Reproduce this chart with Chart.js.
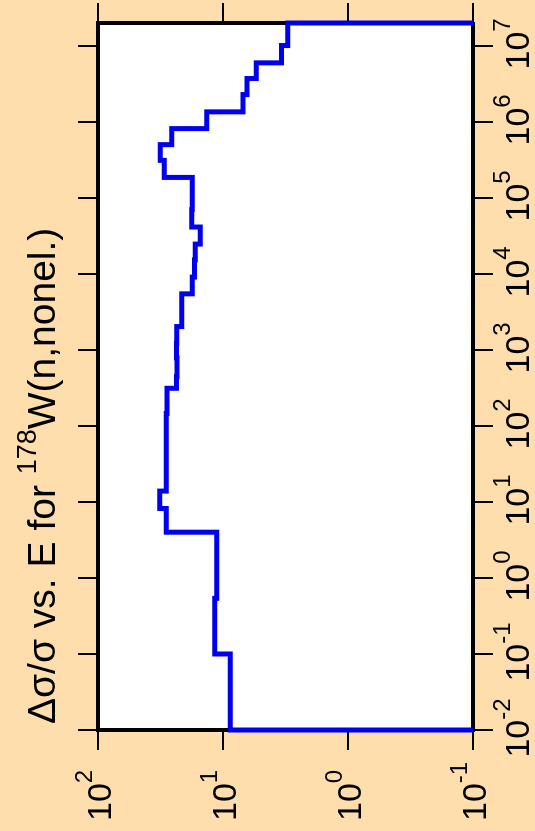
<!DOCTYPE html>
<html>
<head>
<meta charset="utf-8">
<script src="https://cdn.jsdelivr.net/npm/chart.js@4.4.1/dist/chart.umd.min.js"></script>
<style>
  html, body { margin: 0; padding: 0; background: #ffdead; overflow: hidden; }
  /* the chart is drawn landscape and turned a quarter left to fit the page */
  #wrap { position: absolute; left: 0; top: 0; width: 831px; height: 535px;
          transform-origin: 0 0; transform: translateY(831px) rotate(-90deg); }
</style>
</head>
<body>
<div id="wrap"><canvas id="c" width="831" height="535"></canvas></div>
<script>
// energy group boundaries (eV) and relative uncertainty (%) in each group
const energyBounds = [0.01, 0.1, 0.54, 4.0, 8.2, 13.9, 146, 313, 445, 785, 1230, 2030,
    5470, 9080, 15300, 24700, 41400, 70000, 186000, 312000, 502000, 816000,
    1355000, 2290000, 3720000, 5980000, 10100000, 20000000];
const relUncertainty = [8.76, 11.66, 11.2, 28.4, 32.0, 28.4, 28.0, 23.5, 23.3, 23.6, 23.4,
    21.4, 17.6, 16.9, 16.7, 15.2, 17.8, 17.6, 29.5, 31.7, 25.7, 13.5,
    6.92, 6.42, 5.42, 3.40, 3.04];
const energyTicks = [1e-2, 1e-1, 1e0, 1e1, 1e2, 1e3, 1e4, 1e5, 1e6, 1e7];
const uncTicks = [1e-1, 1e0, 1e1, 1e2];
const baseline = 0.1;

const FONT = '"Liberation Sans", Arial, sans-serif';

// closed step outline, starting and ending on the baseline
const points = [{ x: energyBounds[0], y: baseline }];
relUncertainty.forEach((v, i) => points.push({ x: energyBounds[i + 1], y: v }));
points.push({ x: energyBounds[energyBounds.length - 1], y: baseline });

function setTicks(values) {
    return scale => { scale.ticks = values.map(v => ({ value: v })); };
}

const gridOpts = { drawOnChartArea: false, drawTicks: true, tickLength: 20, color: '#000', lineWidth: 2 };
const borderOpts = { color: '#000', width: 4 };

// "10" with a raised exponent
function powLabel(ctx, x, y, exp, align) {
    const sup = String(exp);
    ctx.font = '34px ' + FONT;
    const wb = ctx.measureText('10').width;
    ctx.font = '24px ' + FONT;
    const ws = ctx.measureText(sup).width;
    const left = align === 'center' ? x - (wb + ws) / 2 : x;
    ctx.font = '34px ' + FONT;
    ctx.fillText('10', left, y);
    ctx.font = '24px ' + FONT;
    ctx.fillText(sup, left + wb, y - 19);
}

const plotBg = {
    id: 'plotBg',
    beforeDraw(chart) {
        const a = chart.chartArea;
        chart.ctx.save();
        chart.ctx.fillStyle = '#fff';
        chart.ctx.fillRect(a.left, a.top, a.right - a.left, a.bottom - a.top);
        chart.ctx.restore();
    }
};

const labelsPlugin = {
    id: 'labels',
    afterDraw(chart) {
        const ctx = chart.ctx;
        const sx = chart.scales.x, sy = chart.scales.y;
        ctx.save();
        ctx.fillStyle = '#000';
        ctx.textAlign = 'left';
        ctx.textBaseline = 'alphabetic';
        energyTicks.forEach(v => {
            powLabel(ctx, sx.getPixelForValue(v) + 2, 529, Math.round(Math.log10(v)), 'center');
        });
        uncTicks.forEach(v => {
            powLabel(ctx, 10, sy.getPixelForValue(v) + 13, Math.round(Math.log10(v)), 'left');
        });

        // title
        let tx = 107;
        ctx.font = '39px ' + FONT;
        ctx.fillText('\u0394\u03c3/\u03c3 vs. E for ', tx, 55);
        tx += ctx.measureText('\u0394\u03c3/\u03c3 vs. E for ').width;
        ctx.font = '27px ' + FONT;
        ctx.fillText('178', tx, 36);
        tx += ctx.measureText('178').width;
        ctx.font = '39px ' + FONT;
        ctx.fillText('W(n,nonel.)', tx, 55);
        ctx.restore();
    }
};

new Chart(document.getElementById('c'), {
    type: 'line',
    data: {
        datasets: [{
            data: points,
            stepped: 'after',
            borderColor: '#0000ee',
            borderWidth: 5,
            pointRadius: 0,
            fill: false,
            clip: 6
        }]
    },
    options: {
        responsive: false,
        animation: false,
        devicePixelRatio: 1,
        plugins: { legend: { display: false }, tooltip: { enabled: false } },
        scales: {
            x: {
                type: 'logarithmic', position: 'bottom', min: 0.01, max: 2e7,
                afterBuildTicks: setTicks(energyTicks),
                afterFit: s => { s.height = 62; },
                ticks: { display: false },
                grid: gridOpts, border: borderOpts
            },
            x2: {
                type: 'logarithmic', position: 'top', min: 0.01, max: 2e7,
                afterBuildTicks: setTicks(energyTicks),
                afterFit: s => { s.height = 98; },
                ticks: { display: false },
                grid: gridOpts, border: borderOpts
            },
            y: {
                type: 'logarithmic', position: 'left', min: 0.1, max: 100,
                afterBuildTicks: setTicks(uncTicks),
                afterFit: s => { s.width = 101; },
                ticks: { display: false },
                grid: gridOpts, border: borderOpts
            },
            y2: {
                type: 'logarithmic', position: 'right', min: 0.1, max: 100,
                afterBuildTicks: setTicks(uncTicks),
                afterFit: s => { s.width = 23; },
                ticks: { display: false },
                grid: gridOpts, border: borderOpts
            }
        }
    },
    plugins: [plotBg, labelsPlugin]
});
</script>
</body>
</html>
